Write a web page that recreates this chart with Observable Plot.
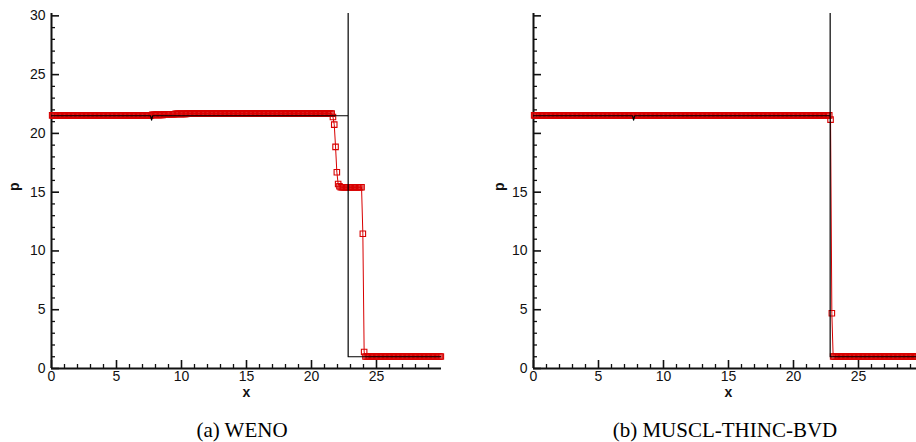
<!DOCTYPE html>
<html><head><meta charset="utf-8">
<script src="https://cdn.jsdelivr.net/npm/d3@7"></script>
<script src="https://cdn.jsdelivr.net/npm/@observablehq/plot@0.6"></script>
<style>
html,body{margin:0;padding:0;background:#fff;overflow:hidden;}
#wrap{position:relative;width:916px;height:442px;overflow:hidden;}
.panel{position:absolute;top:0;width:460px;height:400px;}
.panel svg{max-width:none !important;width:460px;height:400px;}
.cap{position:absolute;top:418px;width:400px;text-align:center;font-family:"Liberation Serif","Times New Roman",serif;font-size:21px;line-height:24px;color:#000;}
</style></head><body>
<div id="wrap">
  <div class="panel" id="pa" style="left:0"></div>
  <div class="panel" id="pb" style="left:482px"></div>
  <div class="cap" style="left:42px">(a) WENO</div>
  <div class="cap" style="left:525px">(b) MUSCL-THINC-BVD</div>
</div>
<script>
// ---- data ----
// exact solution (black line)
const exactX = [0, 7.62, 7.7, 7.78, 22.82, 22.82, 22.82, 30];
const exactP = [21.5, 21.5, 21.12, 21.5, 21.5, 40, 1.0, 1.0];

// numerical solutions on a dx = 0.1 grid, as runs of constant value:
// [first cell centre, last cell centre, p]
const wenoRuns = [
  [0.05, 7.65, 21.53],
  [7.75, 8.55, 21.58],
  [8.65, 9.45, 21.63],
  [9.55, 10.35, 21.66],
  [10.45, 21.55, 21.68],
  [21.65, 21.65, 21.4],
  [21.75, 21.75, 20.75],
  [21.85, 21.85, 18.85],
  [21.95, 21.95, 16.7],
  [22.05, 22.05, 15.7],
  [22.15, 22.15, 15.5],
  [22.25, 23.85, 15.42],
  [23.95, 23.95, 11.46],
  [24.05, 24.05, 1.4],
  [24.15, 29.95, 1.02]
];
const bvdRuns = [
  [0.05, 22.75, 21.53],
  [22.85, 22.85, 21.17],
  [22.95, 22.95, 4.7],
  [23.05, 29.95, 1.02]
];

// ticks and labels
const xMajor = [0, 5, 10, 15, 20, 25];
const xMinor = [1,2,3,4,6,7,8,9,11,12,13,14,16,17,18,19,21,22,23,24,26,27,28,29];
const yMajor = [0, 5, 10, 15, 20, 25, 30];
const yMinor = [1,2,3,4,6,7,8,9,11,12,13,14,16,17,18,19,21,22,23,24,26,27,28,29];
const xLabels = [0, 5, 10, 15, 20, 25];
const yLabelsA = [0, 5, 10, 15, 20, 25, 30];
const yLabelsB = [0, 5, 10, 15];

const RED = "#d80000";

function expand(runs) {
  const out = [];
  for (const [a, b, p] of runs) {
    const n = Math.round((b - a) / 0.1);
    for (let i = 0; i <= n; i++) out.push({x: +(a + i * 0.1).toFixed(2), p});
  }
  return out;
}

function panel(runs, yLabels, pdx) {
  const pts = expand(runs);
  const exact = exactX.map((x, i) => ({x, p: exactP[i]}));
  const blank = () => "";
  return Plot.plot({
    width: 460, height: 400,
    marginLeft: 51, marginRight: 19, marginTop: 13, marginBottom: 32,
    x: {domain: [0, 30]},
    y: {domain: [0, 30.2]},
    style: {fontFamily: "'Liberation Sans', Arial, sans-serif", fontSize: "14px", color: "#111", background: "transparent", overflow: "visible"},
    marks: [
      Plot.axisX(xMinor, {tickSize: 4, dy: -4, tickFormat: blank, label: null, strokeWidth: 1.3}),
      Plot.axisX(xMajor, {tickSize: 8, dy: -8, tickFormat: blank, label: null, strokeWidth: 1.6}),
      Plot.axisX(xLabels, {tickSize: 0, tickPadding: 3, fontSize: 14, label: null}),
      Plot.axisY(yMinor, {tickSize: 4, dx: 4, tickFormat: blank, label: null, strokeWidth: 1.3}),
      Plot.axisY(yMajor, {tickSize: 8, dx: 8, tickFormat: blank, label: null, strokeWidth: 1.6}),
      Plot.axisY(yLabels, {tickSize: 0, tickPadding: 6, fontSize: 14, label: null}),
      Plot.ruleX([0], {strokeWidth: 2}),
      Plot.ruleY([0], {strokeWidth: 2}),
      Plot.text(["x"], {frameAnchor: "bottom", dy: 28, fontWeight: "bold", fontSize: 14}),
      Plot.text(["p"], {frameAnchor: "left", dx: pdx, rotate: -90, fontWeight: "bold", fontSize: 14}),
      Plot.line(pts, {x: "x", y: "p", stroke: RED, strokeWidth: 1}),
      Plot.dot(pts, {x: "x", y: "p", symbol: "square", r: 3.1, stroke: RED, strokeWidth: 1.1, fill: "none"}),
      Plot.line(exact, {x: "x", y: "p", stroke: "#000", strokeWidth: 1.2, clip: true})
    ]
  });
}

document.getElementById("pa").appendChild(panel(wenoRuns, yLabelsA, -37));
document.getElementById("pb").appendChild(panel(bvdRuns, yLabelsB, -34));
</script>
</body></html>
